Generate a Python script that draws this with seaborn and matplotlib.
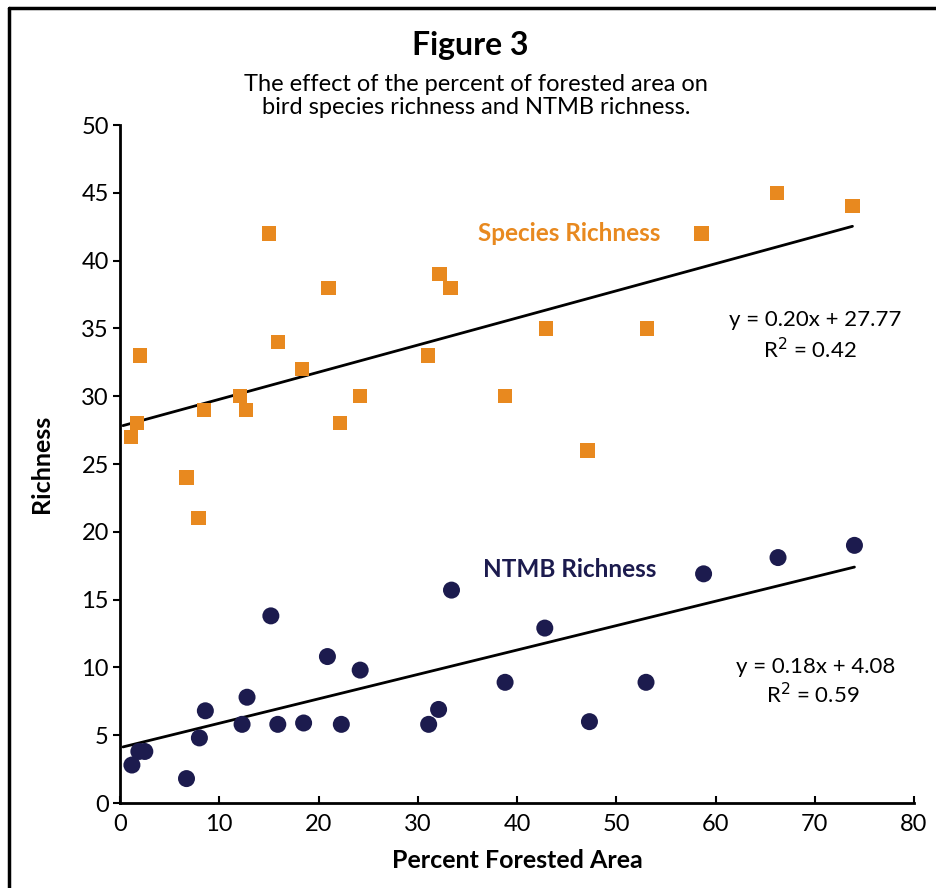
import matplotlib
matplotlib.use("Agg")
import matplotlib.pyplot as plt
import numpy as np
import pandas as pd
import seaborn as sns
from matplotlib.lines import Line2D

# Values
species_forest = [1.1, 1.7, 2.0, 6.7, 7.9, 8.5, 12.1, 12.7, 15.0, 15.9, 18.3, 21.0,
                  22.2, 24.2, 31.0, 32.2, 33.3, 38.8, 42.9, 47.1, 53.1, 58.6, 66.2, 73.8]
species_richness = [27, 28, 33, 24, 21, 29, 30, 29, 42, 34, 32, 38,
                    28, 30, 33, 39, 38, 30, 35, 26, 35, 42, 45, 44]

ntmb_forest = [1.2, 1.9, 2.5, 6.7, 8.0, 8.6, 12.3, 12.8, 15.2, 15.9, 18.5, 20.9,
               22.3, 24.2, 31.1, 32.1, 33.4, 38.8, 42.8, 47.3, 53.0, 58.8, 66.3, 74.0]
ntmb_richness = [2.8, 3.8, 3.8, 1.8, 4.8, 6.8, 5.8, 7.8, 13.8, 5.8, 5.9, 10.8,
                 5.8, 9.8, 5.8, 6.9, 15.7, 8.9, 12.9, 6.0, 8.9, 16.9, 18.1, 19.0]

# Trend lines as given in the figure
species_fit = (0.20, 27.77, 0.42)
ntmb_fit = (0.18, 4.08, 0.59)

orange = "#E8891F"
navy = "#1C1B4E"

sns.set_theme(style="white")
plt.rcParams["font.family"] = ["Lato", "DejaVu Sans"]
plt.rcParams["text.color"] = "black"
plt.rcParams["axes.labelcolor"] = "black"

df_sp = pd.DataFrame({"forest": species_forest, "richness": species_richness})
df_nt = pd.DataFrame({"forest": ntmb_forest, "richness": ntmb_richness})

fig = plt.figure(figsize=(9.36, 8.88), dpi=100)
ax = fig.add_axes([120 / 936, 1 - 803 / 888, (914 - 120) / 936, (803 - 125) / 888])

sns.scatterplot(data=df_sp, x="forest", y="richness", marker="s", s=105,
                color=orange, edgecolor="none", ax=ax, zorder=3)
sns.scatterplot(data=df_nt, x="forest", y="richness", marker="o", s=150,
                color=navy, edgecolor="none", ax=ax, zorder=3)

# regression lines from the printed equations
for (slope, icpt, _), x0, x1 in [(species_fit, 0.3, 73.8), (ntmb_fit, 0.3, 74.0)]:
    xs = np.array([x0, x1])
    ax.plot(xs, slope * xs + icpt, color="black", lw=2, zorder=2)

ax.set_xlim(0, 80)
ax.set_ylim(0, 50)
ax.set_xticks(range(0, 81, 10))
ax.set_yticks(range(0, 51, 5))
sns.despine(ax=ax)
for side in ["left", "bottom"]:
    ax.spines[side].set_color("black")
    ax.spines[side].set_linewidth(2)
ax.tick_params(axis="x", direction="in", length=5, width=1.5, colors="black",
               labelsize=17, pad=8, bottom=True)
ax.tick_params(axis="y", direction="out", length=5, width=1.5, colors="black",
               labelsize=17, pad=3, left=True)

ax.set_xlabel("Percent Forested Area", fontsize=18, fontweight="bold", labelpad=10)
ax.set_ylabel("Richness", fontsize=18, fontweight="bold", labelpad=20)

ax.text(45.3, 42.0, "Species Richness", color=orange, fontsize=17.5,
        fontweight="bold", ha="center", va="center")
ax.text(45.3, 17.2, "NTMB Richness", color=navy, fontsize=17.5,
        fontweight="bold", ha="center", va="center")

ax.text(70.0, 35.6, f"y = {species_fit[0]:.2f}x + {species_fit[1]:.2f}",
        fontsize=16, ha="center", va="center")
ax.text(69.5, 33.4, f"R$^2$ = {species_fit[2]:.2f}", fontsize=16, ha="center", va="center")
ax.text(70.1, 10.0, f"y = {ntmb_fit[0]:.2f}x + {ntmb_fit[1]:.2f}",
        fontsize=16, ha="center", va="center")
ax.text(69.8, 8.0, f"R$^2$ = {ntmb_fit[2]:.2f}", fontsize=16, ha="center", va="center")

fig.text(470 / 936, 1 - 46 / 888, "Figure 3", fontsize=23, fontweight="bold",
         ha="center", va="center")
fig.text(476 / 936, 1 - 96 / 888,
         "The effect of the percent of forested area on\nbird species richness and NTMB richness.",
         fontsize=17, ha="center", va="center", linespacing=1.15)

# outer frame (top and left edges visible in the reference)
fig.add_artist(Line2D([9 / 936, 1], [1 - 8 / 888, 1 - 8 / 888], color="black", lw=2.5,
                      transform=fig.transFigure))
fig.add_artist(Line2D([9 / 936, 9 / 936], [0, 1 - 8 / 888], color="black", lw=2.5,
                      transform=fig.transFigure))

fig.savefig("out.png", dpi=100)
